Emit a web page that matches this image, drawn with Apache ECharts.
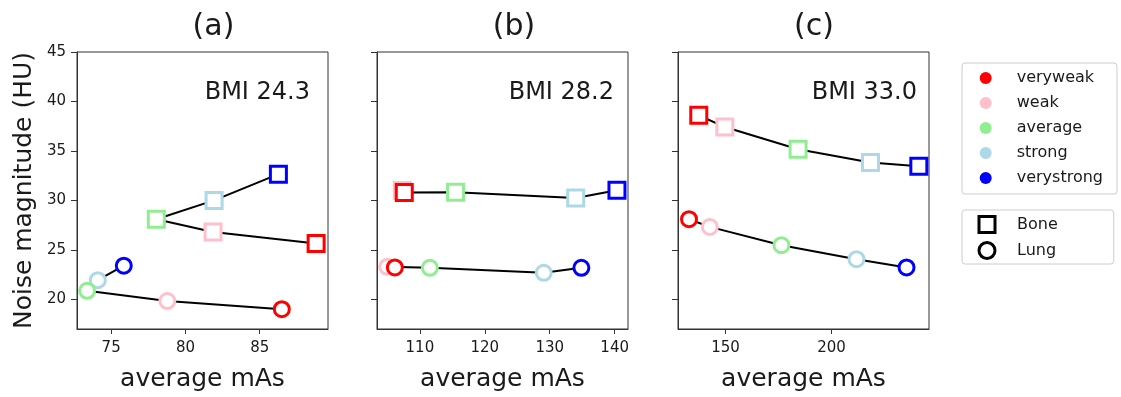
<!DOCTYPE html>
<html>
<head>
<meta charset="UTF-8">
<title>Noise magnitude vs average mAs</title>
<script src="https://cdn.jsdelivr.net/npm/echarts@6/dist/echarts.min.js"></script>
<style>
  html, body { margin: 0; padding: 0; background: #fff; }
  #chart { width: 1121px; height: 397px; }
</style>
</head>
<body>
<div id="chart"></div>
<script>
// categories (order of the connecting line)
var categories = ['veryweak', 'weak', 'average', 'strong', 'verystrong'];
var panelTitles = ['(a)', '(b)', '(c)'];
var bmiLabels = ['BMI 24.3', 'BMI 28.2', 'BMI 33.0'];

// average mAs / noise (HU), one row per panel, columns follow categories
var boneMAs = [
  [88.8, 81.86, 78.04, 81.93, 86.26],
  [107.6, 107.3, 115.5, 134.0, 140.35],
  [137.4, 149.7, 184.25, 218.4, 241.2]
];
var boneNoise = [
  [25.65, 26.8, 28.1, 30.0, 32.65],
  [30.8, 31.0, 30.83, 30.25, 31.03],
  [38.6, 37.42, 35.17, 33.83, 33.45]
];
var lungMAs = [
  [86.49, 78.78, 73.38, 74.1, 75.85],
  [106.15, 104.97, 111.54, 129.08, 134.87],
  [132.8, 142.6, 176.4, 211.8, 235.4]
];
var lungNoise = [
  [19.0, 19.82, 20.86, 21.94, 23.4],
  [23.22, 23.28, 23.18, 22.68, 23.18],
  [28.1, 27.32, 25.47, 24.06, 23.22]
];

// axis ranges and ticks
var xMin = [72.7, 103.4, 127.6];
var xMax = [89.6, 142.05, 246];
var xTicks = [[75, 80, 85], [110, 120, 130, 140], [150, 200]];
var yMin = 17, yMax = 45;
var yTicks = [20, 25, 30, 35, 40, 45];

var colors = ['#ff0000', '#ffc0cb', '#90ee90', '#add8e6', '#0000ff'];
var FONT = 'DejaVu Sans';
var INK = '#1a1a1a';

var gridLeft = [77, 377, 678];
var gridW = 251;

var chart = echarts.init(document.getElementById('chart'));

var grids = [], xAxes = [], yAxes = [], series = [], texts = [];
var titleX = [213.5, 514, 814];
var bmiRight = [310, 614, 917];

for (var p = 0; p < 3; p++) {
  grids.push({
    left: gridLeft[p], top: 52, width: gridW, height: 277,
    show: true, borderColor: '#333', borderWidth: 1, backgroundColor: 'transparent'
  });
  xAxes.push({
    type: 'value', gridIndex: p, min: xMin[p], max: xMax[p],
    name: 'average mAs', nameLocation: 'middle', nameGap: 38,
    nameTextStyle: { fontFamily: FONT, fontSize: 25, color: INK },
    axisLine: { show: true, onZero: false, lineStyle: { color: '#333', width: 1 } },
    axisTick: { show: true, length: 5, lineStyle: { color: '#333' }, customValues: xTicks[p] },
    axisLabel: { fontFamily: FONT, fontSize: 15, color: INK, margin: 12, customValues: xTicks[p] },
    splitLine: { show: false }
  });
  yAxes.push({
    type: 'value', gridIndex: p, min: yMin, max: yMax,
    name: p === 0 ? 'Noise magnitude (HU)' : '', nameLocation: 'middle', nameGap: 40,
    nameTextStyle: { fontFamily: FONT, fontSize: 25, color: INK },
    axisLine: { show: true, onZero: false, lineStyle: { color: '#333', width: 1 } },
    axisTick: { show: true, length: 6, lineStyle: { color: '#333' }, customValues: yTicks },
    axisLabel: { show: p === 0, fontFamily: FONT, fontSize: 15, color: INK, margin: 11, customValues: yTicks },
    splitLine: { show: false }
  });

  var bonePts = boneMAs[p].map(function (x, i) { return [x, boneNoise[p][i]]; });
  var lungPts = lungMAs[p].map(function (x, i) { return [x, lungNoise[p][i]]; });

  series.push({
    name: 'Bone', type: 'line', xAxisIndex: p, yAxisIndex: p, data: bonePts,
    symbol: 'none', lineStyle: { color: '#000', width: 2 }, itemStyle: { color: '#000' },
    z: 1, silent: true, animation: false
  });
  series.push({
    name: 'Lung', type: 'line', xAxisIndex: p, yAxisIndex: p, data: lungPts,
    symbol: 'none', lineStyle: { color: '#000', width: 2 }, itemStyle: { color: '#000' },
    z: 1, silent: true, animation: false
  });

  // reverse order so that veryweak sits on top
  for (var c = categories.length - 1; c >= 0; c--) {
    series.push({
      name: categories[c], type: 'scatter', xAxisIndex: p, yAxisIndex: p,
      data: [bonePts[c]], symbol: 'rect', symbolSize: 16,
      itemStyle: { color: '#fff', borderColor: colors[c], borderWidth: 3, opacity: 1 },
      z: 3, animation: false
    });
    series.push({
      name: categories[c], type: 'scatter', xAxisIndex: p, yAxisIndex: p,
      data: [lungPts[c]], symbol: 'circle', symbolSize: 15,
      itemStyle: { color: '#fff', borderColor: colors[c], borderWidth: 3, opacity: 1 },
      z: 3, animation: false
    });
  }

  texts.push({
    type: 'text', x: titleX[p], y: 27,
    style: { text: panelTitles[p], font: '30px "DejaVu Sans"', fill: INK, align: 'center', verticalAlign: 'middle' }
  });
  texts.push({
    type: 'text', x: bmiRight[p], y: 93,
    style: { text: bmiLabels[p], font: '24px "DejaVu Sans"', fill: INK, align: 'right', verticalAlign: 'middle' }
  });
}

var option = {
  backgroundColor: '#fff',
  animation: false,
  grid: grids,
  xAxis: xAxes,
  yAxis: yAxes,
  legend: [
    {
      orient: 'vertical', left: 962, top: 63,
      padding: [7, 14, 8, 17.7],
      itemWidth: 12, itemHeight: 12, itemGap: 9,
      borderColor: '#ccc', borderWidth: 1, borderRadius: 3,
      selectedMode: false,
      textStyle: { fontFamily: FONT, fontSize: 16, color: INK, lineHeight: 12, padding: [0, 0, 0, 20] },
      data: categories.map(function (name, i) {
        return { name: name, icon: 'circle', itemStyle: { color: colors[i], borderWidth: 0 } };
      })
    },
    {
      orient: 'vertical', left: 962, top: 210,
      padding: [5, 56, 4, 15.5],
      itemWidth: 16, itemHeight: 16, itemGap: 7,
      borderColor: '#ccc', borderWidth: 1, borderRadius: 3,
      selectedMode: false,
      textStyle: { fontFamily: FONT, fontSize: 16, color: INK, lineHeight: 16, padding: [0, 0, 0, 17] },
      data: [
        { name: 'Bone', icon: 'rect', itemStyle: { color: '#fff', borderColor: '#000', borderWidth: 3 } },
        { name: 'Lung', icon: 'circle', itemStyle: { color: '#fff', borderColor: '#000', borderWidth: 3 } }
      ]
    }
  ],
  graphic: texts,
  series: series
};

chart.setOption(option);
</script>
</body>
</html>
